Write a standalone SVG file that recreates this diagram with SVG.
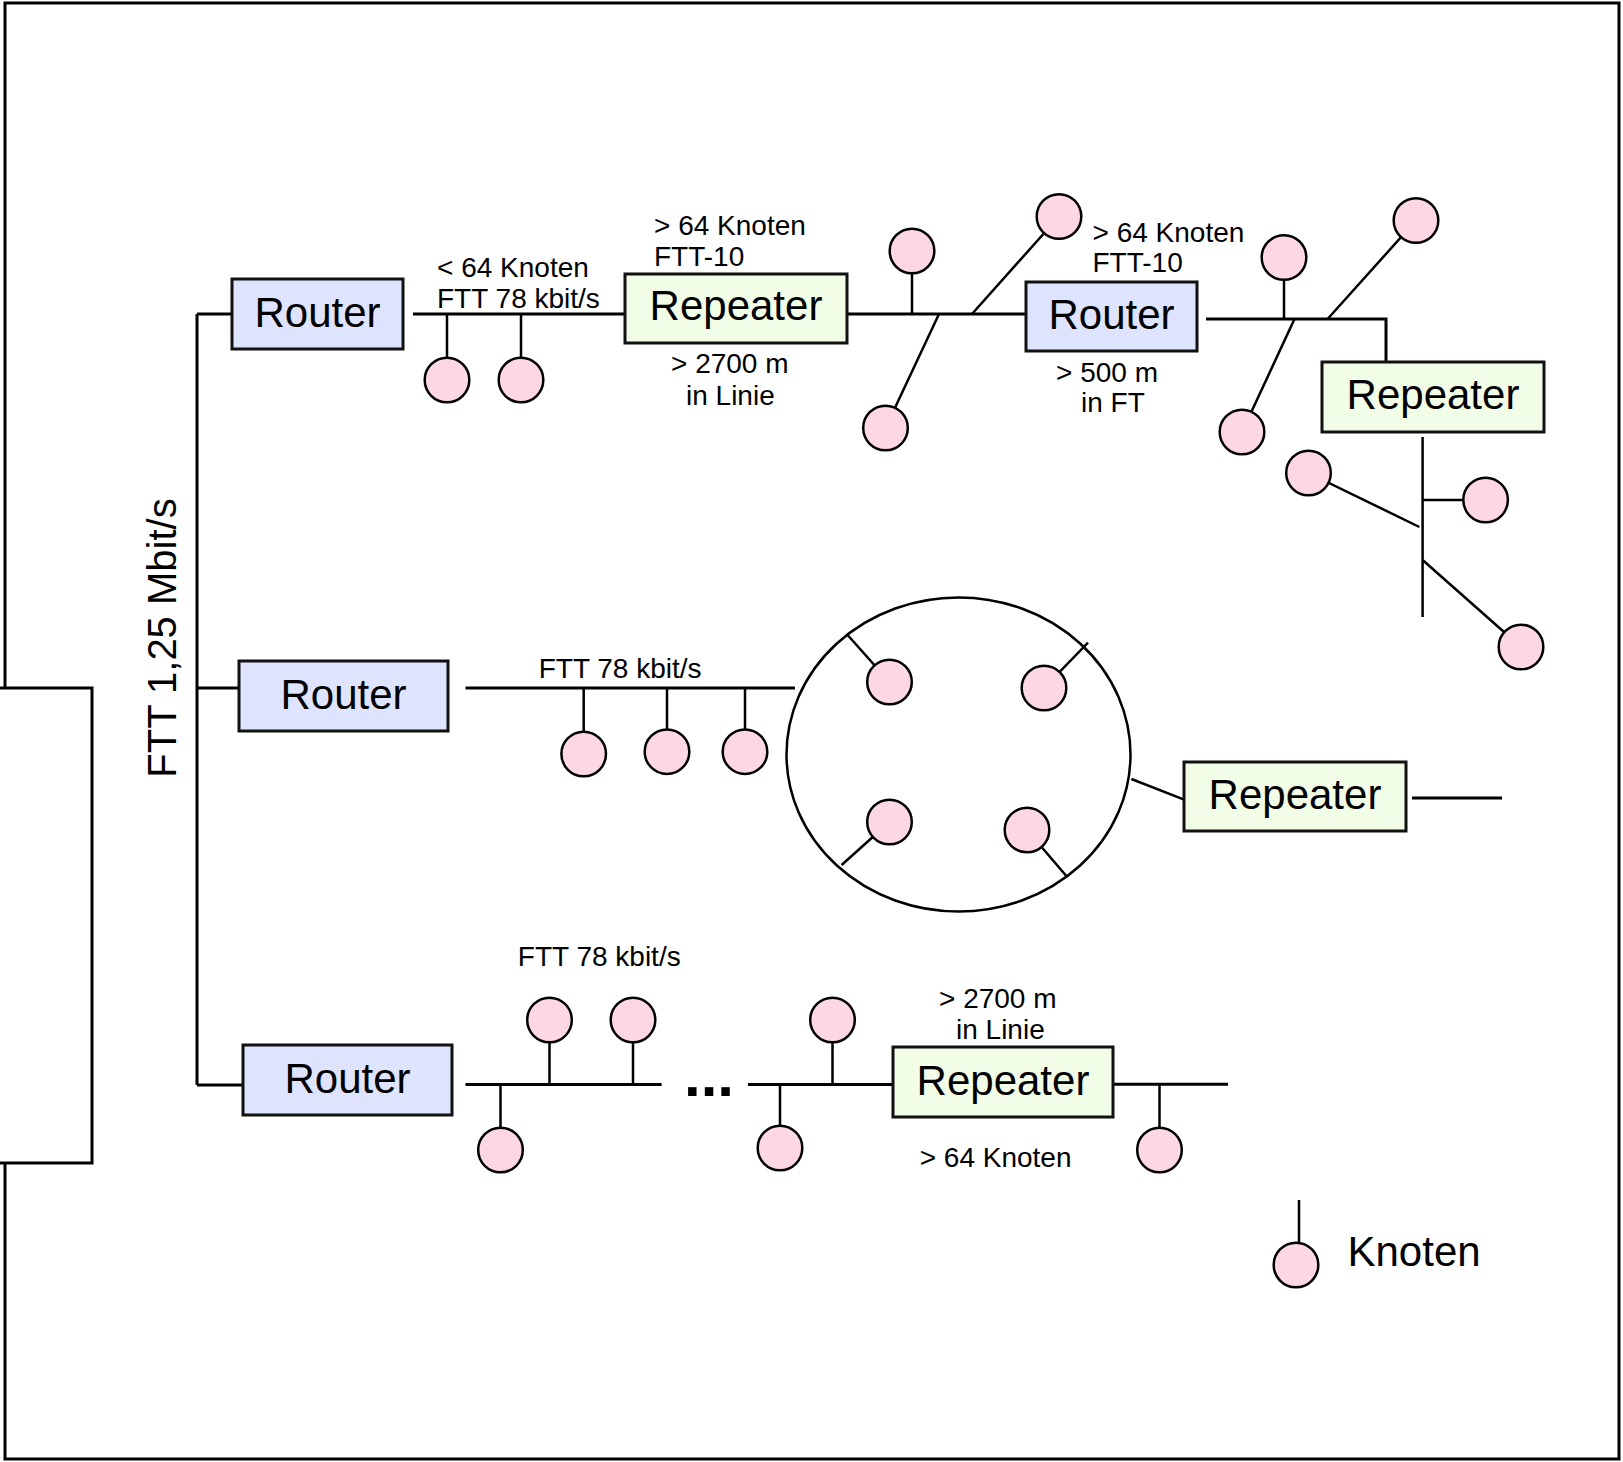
<svg xmlns="http://www.w3.org/2000/svg" width="1623" height="1462" viewBox="0 0 1623 1462">
<style>
.ln{fill:none;stroke:#000;stroke-width:3}
.dr{fill:none;stroke:#000;stroke-width:2.5}
.k{fill:#fdd7e3;stroke:#000;stroke-width:2.5}
.rt{fill:#dee4fd;stroke:#111;stroke-width:3}
.rp{fill:#f2fde8;stroke:#111;stroke-width:3}
.big{font-family:"Liberation Sans",Arial,sans-serif;font-size:42px;fill:#000;text-anchor:middle}
.sm{font-family:"Liberation Sans",Arial,sans-serif;font-size:28px;fill:#000}
</style>
<rect width="1623" height="1462" fill="#fff"/>
<g id="frame">
<path class="ln" d="M5,688 V3 H1619 V1459 H5 V1163"/>
<path class="ln" d="M0,688 H92 V1163 H0"/>
</g>
<g id="connectors">
<path class="ln" d="M197,314 V1085 M197,314 H232 M197,688 H239 M197,1085 H243"/>
<path class="ln" d="M413,314 H625"/>
<path class="dr" d="M447,314 V380 M521,314 V380"/>
<path class="ln" d="M848,314 H1026"/>
<path class="dr" d="M912,314 V251 M939,314 L885.5,428 M972,314 L1059,216.5"/>
<path class="ln" d="M1206,319 H1386 V362"/>
<path class="dr" d="M1284,319 V257.5 M1294.5,319 L1242,432 M1327.6,319 L1416,220.5"/>
<path class="dr" d="M1422.6,437 V617 M1419.4,527 L1308.5,473 M1422.6,500 H1485.6 M1422.6,560 L1521,647"/>
<path class="ln" d="M465.5,688 H795"/>
<path class="dr" d="M583.7,688 V754 M667,688 V751.7 M745,688 V751.7"/>
<ellipse class="dr" cx="958.5" cy="754.5" rx="172" ry="157"/>
<path class="dr" d="M846.7,634 L889.5,682 M1088,642.7 L1044,688 M841.6,865 L889.5,822 M1067,876.7 L1027,830"/>
<path class="dr" d="M1131.4,779 L1183.5,799.3"/>
<path class="ln" d="M1412,798 H1502"/>
<path class="ln" d="M465.5,1084.6 H661.6"/>
<path class="dr" d="M500.5,1084.6 V1150 M549.5,1084.6 V1020 M633,1084.6 V1020"/>
<path class="ln" d="M748,1084.4 H893"/>
<path class="dr" d="M780,1084.4 V1148 M832.5,1084.4 V1020"/>
<path class="ln" d="M1113,1084.3 H1228"/>
<path class="dr" d="M1159.5,1084.3 V1150"/>
<path class="dr" d="M1299,1200 V1265"/>
</g>
<g id="router1"><rect class="rt" x="232" y="279" width="171" height="70"/><text class="big" x="317.5" y="327">Router</text></g>
<g id="repeater1"><rect class="rp" x="625" y="274" width="222" height="69"/><text class="big" x="736" y="320">Repeater</text></g>
<g id="router2"><rect class="rt" x="1026" y="282" width="171" height="69"/><text class="big" x="1111.5" y="329">Router</text></g>
<g id="repeater2"><rect class="rp" x="1322" y="362" width="222" height="70"/><text class="big" x="1433" y="409">Repeater</text></g>
<g id="router3"><rect class="rt" x="239" y="661" width="209" height="70"/><text class="big" x="343.5" y="709">Router</text></g>
<g id="repeater3"><rect class="rp" x="1184" y="762" width="222" height="69"/><text class="big" x="1295" y="809">Repeater</text></g>
<g id="router4"><rect class="rt" x="243" y="1045" width="209" height="70"/><text class="big" x="347.5" y="1093">Router</text></g>
<g id="repeater4"><rect class="rp" x="893" y="1047" width="220" height="70"/><text class="big" x="1003" y="1095">Repeater</text></g>
<g id="nodes">
<circle class="k" cx="447" cy="380" r="22.3"/>
<circle class="k" cx="521" cy="380" r="22.3"/>
<circle class="k" cx="912" cy="251" r="22.3"/>
<circle class="k" cx="885.5" cy="428" r="22.3"/>
<circle class="k" cx="1059" cy="216.5" r="22.3"/>
<circle class="k" cx="1284" cy="257.5" r="22.3"/>
<circle class="k" cx="1242" cy="432" r="22.3"/>
<circle class="k" cx="1416" cy="220.5" r="22.3"/>
<circle class="k" cx="1308.5" cy="473" r="22.3"/>
<circle class="k" cx="1485.6" cy="500" r="22.3"/>
<circle class="k" cx="1521" cy="647" r="22.3"/>
<circle class="k" cx="583.7" cy="754" r="22.3"/>
<circle class="k" cx="667" cy="751.7" r="22.3"/>
<circle class="k" cx="745" cy="751.7" r="22.3"/>
<circle class="k" cx="889.5" cy="682" r="22.3"/>
<circle class="k" cx="1044" cy="688" r="22.3"/>
<circle class="k" cx="889.5" cy="822" r="22.3"/>
<circle class="k" cx="1027" cy="830" r="22.3"/>
<circle class="k" cx="500.5" cy="1150" r="22.3"/>
<circle class="k" cx="549.5" cy="1020" r="22.3"/>
<circle class="k" cx="633" cy="1020" r="22.3"/>
<circle class="k" cx="780" cy="1148" r="22.3"/>
<circle class="k" cx="832.5" cy="1020" r="22.3"/>
<circle class="k" cx="1159.5" cy="1150" r="22.3"/>
</g>
<g id="legend">
<circle class="k" cx="1296" cy="1265" r="22.3"/>
<text class="big" x="1347.5" y="1266" style="text-anchor:start">Knoten</text>
</g>
<g id="labels">
<text class="big" transform="translate(176,638) rotate(-90)" style="font-size:40px">FTT 1,25 Mbit/s</text>
<text class="sm" x="437" y="277">&lt; 64 Knoten</text>
<text class="sm" x="437" y="308">FTT 78 kbit/s</text>
<text class="sm" x="654" y="235">&gt; 64 Knoten</text>
<text class="sm" x="654" y="266">FTT-10</text>
<text class="sm" x="671" y="373">&gt; 2700 m</text>
<text class="sm" x="686" y="405">in Linie</text>
<text class="sm" x="1092.5" y="241.5">&gt; 64 Knoten</text>
<text class="sm" x="1092.5" y="271.5">FTT-10</text>
<text class="sm" x="1056" y="381.5">&gt; 500 m</text>
<text class="sm" x="1081" y="411.5">in FT</text>
<text class="sm" x="538.7" y="678">FTT 78 kbit/s</text>
<text class="sm" x="517.8" y="965.6">FTT 78 kbit/s</text>
<text class="sm" x="939" y="1008">&gt; 2700 m</text>
<text class="sm" x="956" y="1039">in Linie</text>
<text class="sm" x="919.7" y="1166.7">&gt; 64 Knoten</text>
<text class="sm" x="684" y="1096" style="font-size:60px;font-weight:bold">...</text>
</g>
</svg>
